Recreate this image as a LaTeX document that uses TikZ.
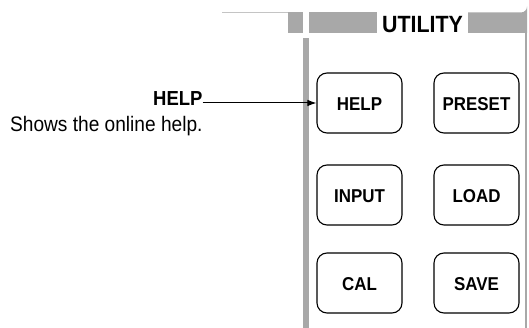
\documentclass[tikz,border=0pt]{standalone}
\usepackage{fontspec}
\setmainfont{Liberation Sans}[FakeStretch=0.91]
\usetikzlibrary{arrows.meta}
\definecolor{panelgray}{HTML}{A8A8A8}
\definecolor{linegray}{HTML}{C4C4C4}
\begin{document}
\begin{tikzpicture}[x=1pt,y=-1pt,
  btn/.style={draw=black, line width=1.1pt, rounded corners=10pt,
    minimum width=85pt, minimum height=60pt, inner sep=0pt,
    font=\bfseries\fontsize{18.6}{18.6}\selectfont, text height=15pt, text depth=0pt},
  lbl/.style={inner sep=0pt, font=\bfseries\fontsize{20.3}{20.3}\selectfont},
  desc/.style={inner sep=0pt, font=\fontsize{21}{21}\selectfont},
  callout/.style={line width=1pt, -{Latex[length=9pt,width=6.5pt]}}]
\useasboundingbox (0,0) rectangle (529,328);
% panel frame
\draw[linegray, line width=1pt] (222,12.5) -- (288,12.5);
\fill[panelgray] (288,12.5) rectangle (303,33);
\fill[panelgray] (309,12.5) rectangle (377,33);
\fill[panelgray] (468,12.5) -- (521,12.5) arc[start angle=90, end angle=0, radius=6] -- (527,33) -- (468,33) -- cycle;
\draw[panelgray, line width=1.6pt] (526.2,30) -- (526.2,328);
\fill[panelgray] (302.5,38) rectangle (309,328);
\node[lbl, anchor=base, font=\bfseries\fontsize{23.5}{23.5}\selectfont] (util) at (422.5,33) {UTILITY};
% buttons
\node[btn] (help)   at (359.5,103) {HELP};
\node[btn] (preset) at (476.5,103) {PRESET};
\node[btn] (input)  at (359.5,195) {INPUT};
\node[btn] (load)   at (476.5,195) {LOAD};
\node[btn] (cal)    at (359.5,283) {CAL};
\node[btn] (save)   at (476.5,283) {SAVE};
% callout
\node[lbl, anchor=base east] (hl) at (202.7,106) {HELP};
\node[desc, anchor=base west] (hd) at (10,132) {Shows the online help.};
\draw[callout] (hl.east |- help.west) -- (help.west);
\end{tikzpicture}
\end{document}
